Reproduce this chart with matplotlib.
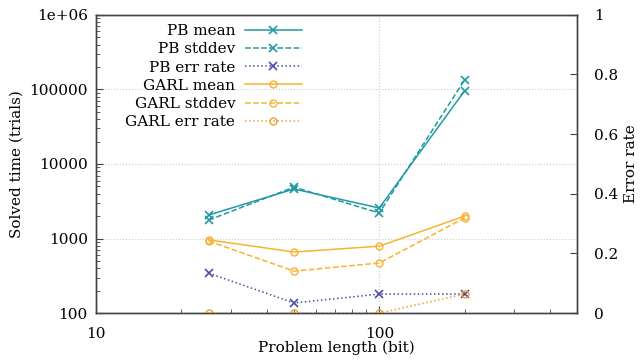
import matplotlib
matplotlib.use('Agg')
import matplotlib.pyplot as plt

plt.rcParams['font.family'] = 'DejaVu Serif'
plt.rcParams['font.size'] = 11

# Data ========================================================================
lengths = [25, 50, 100, 200]
pb_mean = [2070, 4620, 2570, 95500]
pb_std = [1770, 4900, 2200, 134000]
pb_err = [0.134, 0.034, 0.064, 0.064]
garl_mean = [960, 660, 790, 2000]
garl_std = [925, 366, 470, 1890]
garl_err = [0.0, 0.0, 0.0, 0.064]

c_pb = '#2299a3'
c_pberr = '#4b4ea8'
c_garl = '#f7b331'
c_garlerr = '#f0a026'

# Visualización ===============================================================
fig = plt.figure(figsize=(6.4, 3.62), dpi=100)
ax = fig.add_axes([0.15, 0.135, 0.752, 0.824])
ax2 = ax.twinx()

l1, = ax.plot(lengths, pb_mean, '-', color=c_pb, marker='x', ms=5.5, mew=1.2, lw=1.1, label='PB mean')
l2, = ax.plot(lengths, pb_std, '--', color=c_pb, marker='x', ms=5.5, mew=1.2, lw=1.1, label='PB stddev')
l3, = ax2.plot(lengths, pb_err, ':', color=c_pberr, marker='x', ms=5.5, mew=1.2, lw=1.1, label='PB err rate')
l4, = ax.plot(lengths, garl_mean, '-', color=c_garl, marker='o', mfc='none', ms=5, lw=1.1, label='GARL mean')
l5, = ax.plot(lengths, garl_std, '--', color=c_garl, marker='o', mfc='none', ms=5, lw=1.1, label='GARL stddev')
l6, = ax2.plot(lengths, garl_err, ':', color=c_garlerr, marker='o', mfc='none', ms=5, lw=1.1, label='GARL err rate')

ax.set_xscale('log')
ax.set_yscale('log')
ax.set_xlim(10, 500)
ax.set_ylim(100, 1e6)
ax2.set_ylim(0, 1)
ax2.set_yticks([0, 0.2, 0.4, 0.6, 0.8, 1])
ax2.set_yticklabels(['0', '0.2', '0.4', '0.6', '0.8', '1'])

ax.set_xticks([10, 100])
ax.set_xticklabels(['10', '100'])
ax.set_yticks([100, 1000, 10000, 100000, 1e6])
ax.set_yticklabels(['100', '1000', '10000', '100000', '1e+06'])

ax.set_xlabel('Problem length (bit)', labelpad=0)
ax.set_ylabel('Solved time (trials)', labelpad=4)
ax2.set_ylabel('Error rate', labelpad=4)

ax.grid(True, which='major', color='#cccccc', linestyle=':', lw=0.8)
ax.tick_params(which='both', direction='in', top=False, right=False, color='#444444')
ax.tick_params(which='major', length=5)
ax.tick_params(which='minor', length=3)
ax2.tick_params(direction='in', length=5, color='#444444', pad=12)
ax.tick_params(axis='y', pad=6)
ax.tick_params(axis='x', pad=10)
for a in (ax, ax2):
    for s in a.spines.values():
        s.set_color('#444444')
        s.set_linewidth(1.0)

leg = ax.legend(handles=[l1, l2, l3, l4, l5, l6], loc='upper left',
                bbox_to_anchor=(0.042, 1.0), frameon=False, markerfirst=False,
                handlelength=3.7, handletextpad=0.65, labelspacing=0.28,
                borderaxespad=0.2)
for box in leg._legend_handle_box.get_children():
    box.align = 'right'

fig.savefig('out.png', dpi=100)
